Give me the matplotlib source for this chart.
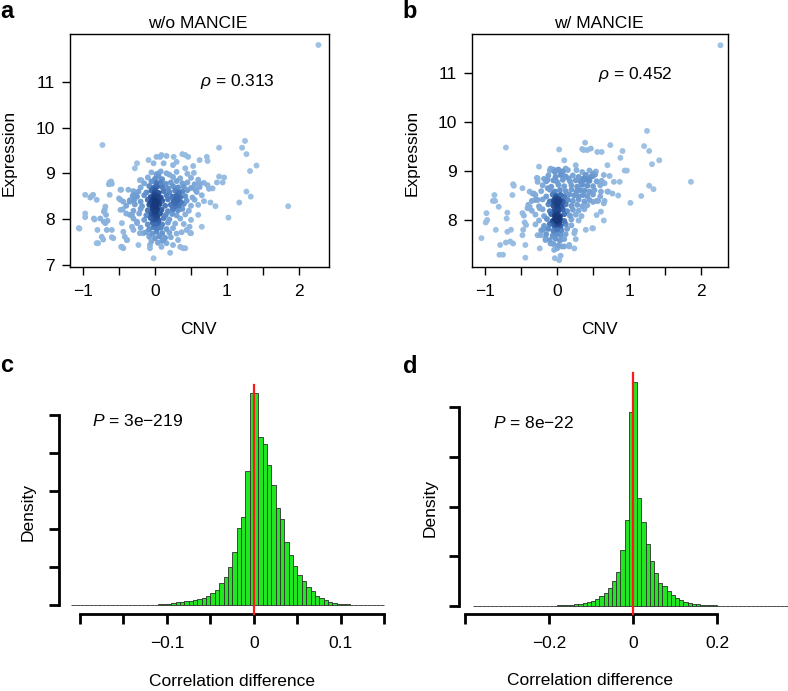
import numpy as np
import matplotlib
matplotlib.use("Agg")
import matplotlib.pyplot as plt
from matplotlib.colors import LinearSegmentedColormap

plt.rcParams['font.family'] = ['Liberation Sans', 'DejaVu Sans']
plt.rcParams['mathtext.fontset'] = 'custom'
plt.rcParams['mathtext.rm'] = 'Liberation Sans'
plt.rcParams['mathtext.it'] = 'Liberation Sans:italic'

W, H = 788, 691
FS = 12.5

# ---- panel a: CNV vs expression, without MANCIE
pts_a = [
    # outliers / sparse points
    (2.27, 11.81), (-0.73, 9.62), (1.85, 8.28), (1.25, 9.71), (1.21, 9.56), (1.27, 9.42),
    (1.41, 9.17), (1.32, 9.05), (1.27, 8.60), (1.33, 8.49), (1.17, 8.36), (1.02, 8.03),
    (0.89, 9.56), (0.89, 8.93), (0.96, 8.91), (0.94, 8.80), (0.86, 8.80), (0.72, 9.36),
    (0.73, 9.27), (0.62, 9.29), (0.53, 9.16), (0.54, 9.01), (0.77, 8.36), (0.68, 8.39),
    (0.84, 8.28), (0.80, 8.67), (0.73, 8.74), (0.65, 7.83), (0.60, 8.09), (0.62, 8.78),
    (0.56, 8.64), (0.50, 7.69), (0.42, 7.36), (0.46, 9.36), (0.42, 9.40),
    (-1.05, 7.79), (-0.97, 8.53), (-0.97, 8.12), (-0.90, 8.47), (-0.86, 8.53), (-0.81, 8.42),
    (-0.84, 7.99), (-0.80, 7.76), (-0.79, 7.47), (-0.72, 7.55), (-0.70, 8.20), (-0.68, 8.09),
    (-0.71, 7.94), (-0.66, 7.96), (-0.67, 7.76), (-0.60, 7.76), (-0.63, 8.80), (-0.60, 8.77),
    (-0.63, 8.53), (-0.58, 7.58), (-0.48, 8.64), (-0.48, 8.42), (-0.46, 7.39), (-0.44, 7.36),
    (-0.42, 7.61), (-0.39, 7.54), (-0.37, 8.64), (-0.35, 8.38), (-0.40, 8.12), (-0.32, 8.09),
    (-0.29, 8.42), (-0.28, 8.53), (-0.25, 9.22), (-0.28, 9.11), (-0.23, 8.60), (-0.21, 8.85),
    (-0.25, 7.94), (-0.30, 7.76), (-0.21, 7.69), (-0.23, 7.43), (-0.07, 7.36), (-0.02, 7.14),
    (-0.07, 7.43), (0.09, 7.39), (0.12, 7.54), (0.21, 7.26), (0.16, 7.47), (0.25, 7.43),
    (0.35, 7.39), (0.39, 7.36), (0.32, 7.54), (0.37, 7.71), (0.44, 7.76), (0.48, 7.83),
    (0.49, 7.69), (-1.06, 7.80), (-0.97, 8.04), (-0.88, 8.50), (-0.61, 8.82), (-0.64, 8.76),
    (-0.47, 8.64), (-0.31, 8.51), (-0.69, 8.27), (-0.71, 8.16), (-0.76, 8.01), (-0.85, 8.01),
    (-0.69, 7.91), (-0.74, 7.61), (-0.81, 7.47), (-0.60, 7.60), (-0.46, 7.91), (-0.44, 7.72),
    (-0.32, 7.83), (-0.39, 7.54), (-0.47, 7.39), (-0.16, 7.69), (-0.50, 8.45), (-0.44, 8.38),
    (-0.48, 8.20), (-0.19, 8.85), (-0.09, 9.29), (-0.02, 9.22), (0.02, 9.36), (0.07, 9.36),
    (0.09, 9.40), (0.16, 9.38), (0.12, 9.22), (0.25, 9.18), (0.26, 9.36), (0.38, 9.42),
    (0.30, 9.25), (0.42, 9.11), (0.16, 9.00), (0.05, 9.00),
    # dense core
    (-0.05, 9.02), (0.02, 8.98), (0.08, 9.04), (0.20, 8.97), (0.30, 9.03), (0.45, 8.99),
    (-0.10, 8.91), (0.00, 8.88), (0.05, 8.93), (0.10, 8.87), (0.25, 8.92), (0.35, 8.89),
    (0.50, 8.90), (0.60, 8.86),
    (-0.15, 8.78), (-0.05, 8.82), (0.02, 8.79), (0.08, 8.81), (0.15, 8.77), (0.22, 8.80),
    (0.30, 8.83), (0.38, 8.78), (0.45, 8.80), (0.55, 8.76), (0.68, 8.79),
    (-0.20, 8.69), (-0.08, 8.72), (-0.02, 8.68), (0.03, 8.71), (0.10, 8.70), (0.18, 8.67),
    (0.25, 8.72), (0.32, 8.69), (0.40, 8.71), (0.50, 8.68), (0.62, 8.70), (0.75, 8.66),
    (-0.30, 8.61), (-0.12, 8.58), (-0.05, 8.62), (0.00, 8.60), (0.05, 8.57), (0.12, 8.61),
    (0.20, 8.59), (0.28, 8.62), (0.33, 8.58), (0.38, 8.60), (0.45, 8.63), (0.58, 8.59),
    (-0.25, 8.49), (-0.15, 8.52), (-0.06, 8.48), (-0.01, 8.51), (0.03, 8.50), (0.08, 8.47),
    (0.16, 8.52), (0.24, 8.49), (0.30, 8.51), (0.35, 8.48), (0.42, 8.50), (0.52, 8.47),
    (0.65, 8.52),
    (-0.35, 8.41), (-0.20, 8.38), (-0.10, 8.42), (-0.04, 8.39), (0.00, 8.41), (0.04, 8.38),
    (0.10, 8.40), (0.18, 8.43), (0.26, 8.39), (0.31, 8.41), (0.36, 8.37), (0.44, 8.40),
    (0.55, 8.42),
    (-0.40, 8.29), (-0.28, 8.32), (-0.18, 8.28), (-0.08, 8.31), (-0.02, 8.30), (0.01, 8.27),
    (0.06, 8.32), (0.14, 8.29), (0.22, 8.31), (0.28, 8.28), (0.33, 8.30), (0.40, 8.33),
    (0.50, 8.29), (0.60, 8.31),
    (-0.45, 8.21), (-0.30, 8.18), (-0.20, 8.22), (-0.10, 8.19), (-0.03, 8.21), (0.00, 8.18),
    (0.03, 8.22), (0.09, 8.20), (0.18, 8.17), (0.25, 8.21), (0.32, 8.19), (0.38, 8.22),
    (0.47, 8.18),
    (-0.35, 8.09), (-0.22, 8.12), (-0.12, 8.08), (-0.05, 8.11), (-0.01, 8.10), (0.02, 8.07),
    (0.07, 8.12), (0.15, 8.09), (0.24, 8.11), (0.30, 8.08), (0.42, 8.10),
    (-0.30, 8.01), (-0.15, 7.98), (-0.06, 8.02), (-0.02, 7.99), (0.01, 8.01), (0.05, 7.97),
    (0.12, 8.02), (0.20, 7.99), (0.35, 8.01), (0.50, 7.98),
    (-0.25, 7.91), (-0.10, 7.88), (-0.03, 7.92), (0.00, 7.89), (0.04, 7.91), (0.10, 7.88),
    (0.18, 7.92), (0.28, 7.90), (0.40, 7.89),
    (-0.20, 7.81), (-0.08, 7.78), (-0.02, 7.82), (0.03, 7.79), (0.08, 7.81), (0.16, 7.78),
    (0.25, 7.80),
    (-0.12, 7.71), (-0.04, 7.68), (0.02, 7.72), (0.10, 7.69), (0.20, 7.70), (0.30, 7.68),
    (-0.08, 7.61), (0.00, 7.58), (0.06, 7.62), (0.14, 7.59), (0.22, 7.60),
    (-0.05, 7.51), (0.04, 7.48), (0.10, 7.52),
    (-0.02, 8.45), (0.02, 8.35), (-0.03, 8.25), (0.01, 8.15), (0.03, 8.05), (-0.01, 8.55),
    (0.00, 8.65), (0.02, 8.75), (0.30, 8.45), (0.28, 8.35), (0.33, 8.55), (0.25, 8.25),
    (-0.06, 8.35), (0.06, 8.45),
]

# ---- panel b: with MANCIE
pts_b = [
    (2.27, 11.57), (-0.71, 9.48), (1.86, 8.78), (1.25, 9.82), (1.21, 9.51), (1.28, 9.41),
    (1.42, 9.22), (1.32, 9.14), (1.28, 8.70), (1.34, 8.63), (1.17, 8.49), (1.02, 8.35),
    (0.91, 9.41), (0.88, 9.27), (0.74, 9.53), (0.94, 9.01), (0.97, 9.01), (0.87, 8.78),
    (0.79, 8.78), (0.85, 8.50), (0.77, 8.54), (0.56, 9.39), (0.62, 9.39), (0.39, 9.58),
    (0.37, 9.43), (0.47, 9.46), (0.50, 8.95), (0.54, 8.99), (0.66, 8.75), (0.61, 8.58),
    (0.70, 8.58), (0.50, 8.37), (0.57, 8.39), (0.65, 8.34), (0.65, 7.99), (0.61, 8.17),
    (0.40, 7.80), (0.49, 7.83), (0.70, 9.12), (0.65, 8.92), (0.73, 8.90), (0.71, 8.58),
    (0.62, 8.80), (0.53, 8.93), (0.66, 8.39), (0.55, 8.10), (0.50, 7.83),
    (-1.05, 7.63), (-0.98, 8.14), (-0.97, 8.00), (-0.99, 7.95), (-0.89, 8.39), (-0.87, 8.51),
    (-0.81, 8.27), (-0.85, 7.80), (-0.79, 7.49), (-0.80, 7.29), (-0.75, 7.29), (-0.71, 7.54),
    (-0.69, 7.76), (-0.69, 8.15), (-0.70, 8.03), (-0.65, 7.56), (-0.64, 7.80), (-0.62, 8.51),
    (-0.61, 8.73), (-0.61, 7.52), (-0.48, 8.65), (-0.48, 8.14), (-0.45, 7.95), (-0.47, 7.80),
    (-0.48, 7.69), (-0.44, 7.49), (-0.44, 7.23), (-0.41, 8.24), (-0.38, 8.58), (-0.32, 8.54),
    (-0.28, 8.86), (-0.25, 9.09), (-0.27, 8.78), (-0.27, 8.41), (-0.24, 8.24), (-0.23, 7.69),
    (-0.24, 7.42), (-0.20, 7.80), (-0.16, 7.59), (-0.13, 8.82), (-0.13, 8.65), (-0.09, 7.52),
    (-0.04, 7.39), (-0.03, 7.22), (0.05, 7.27), (0.00, 7.42), (0.10, 7.46), (0.17, 7.46),
    (0.24, 7.42), (0.26, 7.61), (0.24, 7.73), (-0.86, 8.39), (-0.60, 8.70), (-0.46, 8.09),
    (-0.43, 7.90), (-0.38, 8.27), (-0.34, 8.54), (-0.27, 8.85), (-0.30, 8.41), (-0.27, 7.69),
    (-0.18, 8.84), (-0.18, 7.83), (-0.16, 7.63), (0.03, 7.18), (0.07, 7.46), (0.17, 7.49),
    (0.03, 9.44), (-0.09, 9.05), (-0.05, 9.03), (0.01, 9.02), (0.07, 8.99), (0.12, 9.05),
    (0.16, 8.85), (0.10, 9.22), (0.26, 9.12), (0.27, 9.02), (0.37, 8.85), (0.42, 8.82),
    (0.47, 8.88), (0.35, 9.45), (0.42, 9.43),
    # dense core
    (-0.10, 9.01), (-0.03, 8.98), (0.02, 9.03), (0.08, 8.99), (0.15, 9.02), (0.35, 8.98),
    (0.45, 9.01),
    (-0.12, 8.91), (-0.02, 8.88), (0.05, 8.92), (0.12, 8.89), (0.22, 8.91), (0.30, 8.88),
    (0.40, 8.92), (0.50, 8.90),
    (-0.15, 8.79), (-0.05, 8.81), (0.00, 8.78), (0.08, 8.82), (0.18, 8.79), (0.26, 8.81),
    (0.33, 8.78), (0.38, 8.82), (0.45, 8.80), (0.55, 8.79),
    (-0.20, 8.71), (-0.08, 8.68), (0.02, 8.72), (0.10, 8.69), (0.20, 8.71), (0.28, 8.68),
    (0.35, 8.72), (0.42, 8.70), (0.50, 8.69), (0.60, 8.71),
    (-0.22, 8.59), (-0.10, 8.62), (-0.03, 8.58), (0.04, 8.61), (0.12, 8.59), (0.20, 8.62),
    (0.27, 8.58), (0.32, 8.61), (0.38, 8.60), (0.45, 8.58), (0.52, 8.61),
    (-0.30, 8.51), (-0.15, 8.48), (-0.06, 8.52), (-0.01, 8.49), (0.05, 8.51), (0.10, 8.48),
    (0.17, 8.52), (0.24, 8.50), (0.30, 8.48), (0.36, 8.51), (0.42, 8.49), (0.50, 8.52),
    (0.60, 8.48),
    (-0.35, 8.39), (-0.20, 8.42), (-0.10, 8.38), (-0.04, 8.41), (-0.01, 8.39), (0.02, 8.42),
    (0.08, 8.38), (0.15, 8.41), (0.22, 8.39), (0.30, 8.42), (0.38, 8.38), (0.45, 8.41),
    (0.55, 8.39),
    (-0.40, 8.31), (-0.25, 8.28), (-0.12, 8.32), (-0.05, 8.29), (0.00, 8.31), (0.06, 8.28),
    (0.12, 8.32), (0.20, 8.29), (0.28, 8.31), (0.35, 8.28), (0.42, 8.30),
    (-0.35, 8.19), (-0.20, 8.22), (-0.10, 8.18), (-0.03, 8.21), (0.02, 8.19), (0.08, 8.22),
    (0.14, 8.18), (0.22, 8.21), (0.30, 8.19), (0.38, 8.22),
    (-0.30, 8.11), (-0.18, 8.08), (-0.08, 8.12), (-0.03, 8.09), (0.00, 8.11), (0.04, 8.08),
    (0.10, 8.12), (0.18, 8.09), (0.26, 8.11), (0.34, 8.08),
    (-0.25, 7.99), (-0.14, 8.02), (-0.06, 7.98), (-0.02, 8.01), (0.01, 7.99), (0.04, 8.02),
    (0.10, 7.98), (0.20, 8.01), (0.30, 7.99),
    (-0.30, 7.91), (-0.18, 7.88), (-0.10, 7.92), (-0.04, 7.89), (0.00, 7.91), (0.05, 7.88),
    (0.12, 7.92), (0.20, 7.89),
    (-0.22, 7.79), (-0.12, 7.82), (-0.05, 7.78), (0.00, 7.81), (0.06, 7.79), (0.14, 7.82),
    (0.25, 7.78),
    (-0.15, 7.71), (-0.06, 7.68), (0.00, 7.72), (0.05, 7.69), (0.12, 7.71),
    (-0.10, 7.59), (-0.02, 7.62), (0.04, 7.58), (0.10, 7.61),
    (-0.05, 7.51), (0.02, 7.48),
    (-0.03, 8.02), (0.00, 7.97), (0.02, 8.05), (-0.01, 8.06), (0.03, 7.95), (-0.04, 8.37),
    (0.00, 8.43), (0.02, 8.36), (-0.02, 8.45), (0.04, 8.40), (-0.02, 8.15), (0.01, 8.25),
    (0.02, 7.92), (-0.01, 8.33),
]

rho_a = "0.313"
rho_b = "0.452"

# ---- panel c: histogram of correlation difference (bin width 0.005, from -0.21)
dens_c = [
    0.01, 0.0, 0.01, 0.0, 0.0, 0.01, 0.0, 0.01, 0.01, 0.02, 0.01, 0.02, 0.02, 0.03,
    0.04, 0.04, 0.05, 0.07, 0.08, 0.11, 0.13, 0.20, 0.26, 0.33, 0.40, 0.46, 0.53, 0.60,
    0.66, 0.79, 0.93, 1.2, 1.6, 2.1, 2.9, 3.8, 5.0, 7.1, 10.2, 11.6, 17.7,
    27.9, 27.9,
    22.2, 21.3, 18.5, 15.9, 12.8, 11.4, 8.3, 6.6, 5.2, 4.0, 3.2, 2.4, 1.85, 1.3,
    0.93, 0.66, 0.46, 0.36, 0.26, 0.22, 0.13, 0.08, 0.07, 0.05, 0.04, 0.03, 0.03, 0.01,
    0.01,
]
edges_c = np.round(-0.21 + 0.005 * np.arange(len(dens_c) + 1), 3)

# ---- panel d: bin width 0.01, from -0.38
dens_d = [
    0.0, 0.01, 0.0, 0.01, 0.01, 0.0, 0.01, 0.01, 0.01, 0.01, 0.02, 0.01, 0.02, 0.02,
    0.02, 0.02, 0.02, 0.03, 0.04, 0.05, 0.06, 0.08, 0.10, 0.13, 0.17, 0.23, 0.30, 0.40,
    0.55, 0.75, 1.0, 1.3, 1.8, 2.5, 3.4, 5.6, 8.65,
    19.5, 22.5,
    10.9, 8.45, 6.2, 4.5, 3.3, 2.3, 2.0, 1.5, 1.1, 0.8, 0.6, 0.4, 0.3, 0.25, 0.2, 0.15,
    0.12, 0.09, 0.07, 0.05, 0.04, 0.03, 0.02, 0.02, 0.02, 0.01, 0.01, 0.01, 0.0, 0.01,
    0.01, 0.0, 0.01, 0.0, 0.0, 0.0,
]
edges_d = np.round(-0.38 + 0.01 * np.arange(len(dens_d) + 1), 3)

p_c = "3e\u2212219"
p_d = "8e\u221222"


def box(px_left, px_top, px_right, px_bottom):
    return [px_left / W, 1 - px_bottom / H, (px_right - px_left) / W, (px_bottom - px_top) / H]


def ftext(px, py, s, **kw):
    fig.text(px / W, 1 - py / H, s, **kw)


blues = LinearSegmentedColormap.from_list(
    "dens", ["#9fc2e4", "#86afdc", "#5f90cb", "#3563ab", "#16377a"])


def scatter_panel(ax, pts, sx, sy):
    x = np.array([p[0] for p in pts])
    y = np.array([p[1] for p in pts])
    # local point density (in pixel space) -> colour, like densCols
    dx = (x[:, None] - x[None, :]) * sx
    dy = (y[:, None] - y[None, :]) * sy
    k = np.exp(-(dx ** 2 + dy ** 2) / (2 * 6.0 ** 2)).sum(axis=1)
    k = (k - k.min()) / (k.max() - k.min())
    order = np.argsort(k)
    ax.scatter(x[order], y[order], s=18, c=blues(k[order] ** 1.25), linewidths=0, zorder=2)
    for sp in ax.spines.values():
        sp.set_linewidth(1.0)
    xt = np.arange(-1, 2.01, 0.5)
    ax.set_xticks(xt)
    ax.set_xticklabels(["\u22121" if v == -1 else ("%d" % v if v == int(v) else "") for v in xt])
    ax.tick_params(direction="out", length=6, width=1.0, labelsize=FS, pad=6)
    ax.tick_params(axis="y", pad=5)


fig = plt.figure(figsize=(W / 100, H / 100), dpi=100)

# a
ax_a = fig.add_axes(box(70, 34, 329, 267))
ax_a.set_xlim(-1.181, 2.417)
ax_a.set_ylim(6.949, 12.05)
scatter_panel(ax_a, pts_a, 72, 45.7)
ax_a.set_yticks([7, 8, 9, 10, 11])
ax_a.text(0.63, 11.02, r"$\rho$ = " + rho_a, fontsize=FS, ha="left", va="center")

# b
ax_b = fig.add_axes(box(472, 34, 728, 267))
ax_b.set_xlim(-1.181, 2.375)
ax_b.set_ylim(7.04, 11.80)
scatter_panel(ax_b, pts_b, 72, 49)
ax_b.set_yticks([8, 9, 10, 11])
ax_b.text(0.57, 10.98, r"$\rho$ = " + rho_b, fontsize=FS, ha="left", va="center")


def hist_panel(ax, edges, dens, yticks, xticks, xlabels, xbounds):
    edges = np.asarray(edges)
    ax.bar(edges[:-1], dens, width=np.diff(edges), align="edge", color="#22e622",
           edgecolor="#2e2e2e", linewidth=0.6, zorder=2)
    ax.axvline(0, color="#ff1a1a", lw=1.6, zorder=3, clip_on=False)
    for s in ("top", "right"):
        ax.spines[s].set_visible(False)
    ax.spines["left"].set_bounds(yticks[0], yticks[-1])
    ax.spines["bottom"].set_bounds(*xbounds)
    ax.spines["left"].set_linewidth(2.0)
    ax.spines["bottom"].set_linewidth(2.0)
    ax.set_yticks(yticks)
    ax.set_yticklabels([])
    ax.set_xticks(xticks)
    ax.set_xticklabels(xlabels)
    ax.tick_params(direction="out", length=7, width=2.0, labelsize=FS, pad=9)
    ax.patch.set_alpha(0)


# c
ax_c = fig.add_axes(box(59, 385, 395.8, 614))
ax_c.set_xlim(-0.2241, 0.163)
ax_c.set_ylim(-1.12, 29.0)
xt_c = np.round(np.arange(-0.2, 0.1501, 0.05), 2)
lab_c = {-0.1: "\u22120.1", 0.0: "0", 0.1: "0.1"}
hist_panel(ax_c, edges_c, dens_c, [0, 5, 10, 15, 20, 25], xt_c,
           [lab_c.get(v, "") for v in xt_c], (-0.2, 0.15))
ax_c.text(-0.186, 24.3, "$P$ = " + p_c, fontsize=FS, ha="left", va="center")

# d
ax_d = fig.add_axes(box(459, 373, 788.4, 614))
ax_d.set_xlim(-0.414, 0.37)
ax_d.set_ylim(-0.8, 23.44)
xt_d = [-0.4, -0.2, 0.0, 0.2]
hist_panel(ax_d, edges_d, dens_d, [0, 5, 10, 15, 20], xt_d,
           ["", "\u22120.2", "0", "0.2"], (-0.4, 0.2))
ax_d.text(-0.332, 18.4, "$P$ = " + p_d, fontsize=FS, ha="left", va="center")

# titles, axis labels, panel letters (placed in pixel positions)
ftext(198, 28, "w/o MANCIE", fontsize=FS, ha="center", va="baseline")
ftext(599, 28, "w/ MANCIE", fontsize=FS, ha="center", va="baseline")
ftext(198, 334, "CNV", fontsize=FS, ha="center", va="baseline")
ftext(599, 334, "CNV", fontsize=FS, ha="center", va="baseline")
ftext(9, 153, "Expression", fontsize=FS, ha="center", va="center", rotation=90)
ftext(412, 153, "Expression", fontsize=FS, ha="center", va="center", rotation=90)
ftext(28, 512, "Density", fontsize=FS, ha="center", va="center", rotation=90)
ftext(430, 508, "Density", fontsize=FS, ha="center", va="center", rotation=90)
ftext(232, 686, "Correlation difference", fontsize=FS, ha="center", va="baseline")
ftext(590, 685, "Correlation difference", fontsize=FS, ha="center", va="baseline")
for letter, x0, y0 in [("a", 7, 18), ("b", 410, 18), ("c", 7, 372), ("d", 410, 373)]:
    ftext(x0, y0, letter, fontsize=17, fontweight="bold", ha="center", va="baseline")

fig.savefig("out.png", dpi=100)
